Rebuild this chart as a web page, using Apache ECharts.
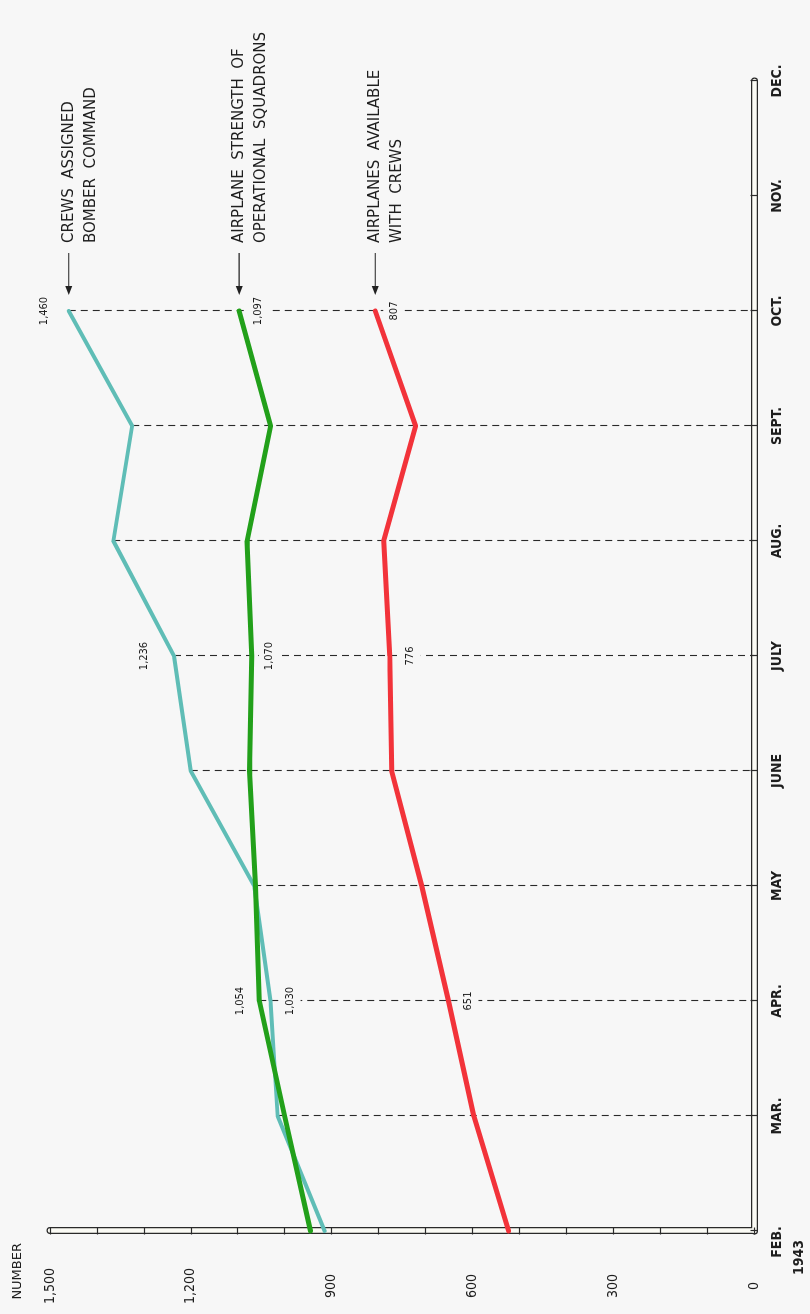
<!DOCTYPE html>
<html><head><meta charset="utf-8">
<script src="https://cdn.jsdelivr.net/npm/echarts@6/dist/echarts.min.js"></script>
<style>
html,body{margin:0;padding:0;background:#f7f7f7;width:810px;height:1314px;overflow:hidden;}
#chart{position:absolute;left:0;top:0;width:1314px;height:810px;transform-origin:0 0;transform:translate(0,1314px) rotate(-90deg);}
</style></head><body><div id="chart"></div>
<script>
// ---- data ----
const months = ['FEB.','MAR.','APR.','MAY','JUNE','JULY','AUG.','SEPT.','OCT.','NOV.','DEC.'];
const startYear = '1943';
const crewsAssigned      = [915, 1015, 1030, 1065, 1200, 1236, 1365, 1325, 1460];
const airplaneStrength   = [945, 1000, 1054, 1062, 1075, 1070, 1080, 1030, 1097];
const airplanesAvailable = [523, 597, 651, 708, 772, 776, 789, 721, 807];
const valueTicks      = [0, 300, 600, 900, 1200, 1500];
const valueTickLabels = ['0', '300', '600', '900', '1,200', '1,500'];
const annotCrews     = ['CREWS  ASSIGNED', 'BOMBER  COMMAND'];
const annotStrength  = ['AIRPLANE  STRENGTH  OF', 'OPERATIONAL  SQUADRONS'];
const annotAvailable = ['AIRPLANES  AVAILABLE', 'WITH  CREWS'];
const axisName = 'NUMBER';

// ---- styling ----
const BG = '#f7f7f7', INK = '#1e1e1e', BARFILL = '#fbfbf5';
const COND = "'DejaVu Sans Condensed','Liberation Sans Narrow','DejaVu Sans',sans-serif";
const SANS = "'DejaVu Sans',sans-serif";
const colors = ['#5fbdb6', '#22a01a', '#f2333a'];
const widths = [4, 5, 5];
// label placement per labelled point: [position, distance]
const placement = [
  {2: ['bottom', 8], 5: ['top', 18], 8: ['top', 13]},
  {2: ['top', 8], 5: ['bottom', 6], 8: ['bottom', 7]},
  {2: ['bottom', 8], 5: ['bottom', 9], 8: ['bottom', 7]}
];
const fmt = v => v.toLocaleString('en-US');

const allSeries = [crewsAssigned, airplaneStrength, airplanesAvailable];

function buildData(arr, k) {
  return arr.map((v, i) => {
    const p = placement[k][i];
    if (!p) return v;
    return {value: v, label: {show: true, position: p[0], distance: p[1], formatter: fmt(v),
      fontFamily: COND, fontSize: 11, color: INK, backgroundColor: BG, padding: [4, 1], lineHeight: 13}};
  });
}

// dashed guide lines from highest point down to the axis, MAR..OCT
const guideData = [];
for (let i = 1; i < crewsAssigned.length; i++) {
  const top = Math.max(crewsAssigned[i], airplaneStrength[i], airplanesAvailable[i]);
  guideData.push([{coord: [months[i], top]}, {coord: [months[i], 0]}]);
}

function catAxis(kind) {
  const base = {type: 'category', data: months, boundaryGap: false, position: 'bottom',
    axisLine: {show: false, onZero: false}, axisTick: {show: false, interval: 0},
    axisLabel: {show: false, interval: 0}, splitLine: {show: false}};
  if (kind === 0) {
    base.z = 1;
    base.axisLine = {show: true, onZero: false, lineStyle: {color: '#2a2a2a', width: 7}};
    base.axisLabel = {show: true, interval: 0, margin: 12, fontFamily: COND, fontSize: 14, fontWeight: 'bold', color: INK,
      lineHeight: 22,
      formatter: (v, i) => i === 0 ? '{a|' + v + '}\n{b|' + startYear + '}' : v,
      rich: {a: {fontFamily: COND, fontSize: 14, fontWeight: 'bold', color: INK, padding: [0, 22, 0, 0], lineHeight: 22},
             b: {fontFamily: COND, fontSize: 14, fontWeight: 'bold', color: INK, padding: [0, 53, 0, 0], lineHeight: 22}}};
  } else if (kind === 1) {
    base.z = 2;
    base.axisLine = {show: true, onZero: false, lineStyle: {color: BARFILL, width: 4.5}};
    base.axisTick = {show: true, interval: 0, inside: false, length: 3.5, lineStyle: {color: '#2a2a2a', width: 1.2}};
  } else {
    base.z = 3;
    base.axisTick = {show: true, interval: 0, inside: true, length: 3.5, lineStyle: {color: '#2a2a2a', width: 1.2}};
  }
  return base;
}
function valAxis(kind) {
  const base = {type: 'value', min: 0, max: 1500, interval: 100, position: 'left',
    axisLine: {show: false, onZero: false}, axisTick: {show: false}, axisLabel: {show: false},
    splitLine: {show: false}};
  if (kind === 0) {
    base.z = 1;
    base.axisLine = {show: true, onZero: false, lineStyle: {color: '#2a2a2a', width: 7}};
    base.axisLabel = {show: true, margin: 55, align: 'center', fontFamily: COND, fontSize: 14, color: INK,
      formatter: v => { const j = valueTicks.indexOf(v); return j >= 0 ? valueTickLabels[j] : ''; }};
    base.name = axisName;
    base.nameLocation = 'end';
    base.nameGap = 32;
    base.nameTextStyle = {fontFamily: SANS, fontSize: 13, color: INK, align: 'right', verticalAlign: 'middle', padding: [0, 12, 0, 0]};
  } else if (kind === 1) {
    base.z = 2;
    base.axisLine = {show: true, onZero: false, lineStyle: {color: BARFILL, width: 4.5}};
    base.axisTick = {show: true, inside: false, length: 3.5, lineStyle: {color: '#2a2a2a', width: 1.2}};
  } else {
    base.z = 3;
    base.axisTick = {show: true, inside: true, length: 3.5, lineStyle: {color: '#2a2a2a', width: 1.2}};
  }
  return base;
}

const chart = echarts.init(document.getElementById('chart'), null, {renderer: 'canvas'});
const option = {
  backgroundColor: BG,
  animation: false,
  grid: {left: 83, right: 81, top: 50, bottom: 56, containLabel: false, outerBoundsMode: 'none'},
  xAxis: [catAxis(0), catAxis(1), catAxis(2)],
  yAxis: [valAxis(0), valAxis(1), valAxis(2)],
  series: [
    {type: 'line', name: 'guides', data: [], z: 5, silent: true,
      markLine: {silent: true, symbol: ['none', 'none'], label: {show: false},
        lineStyle: {type: [7, 5], color: '#2a2a2a', width: 1.1}, data: guideData}},
  ].concat(allSeries.map((arr, k) => ({
    type: 'line', name: 'S' + k, data: buildData(arr, k), z: 10 + k, silent: true,
    symbol: 'circle', symbolSize: 2, showSymbol: true,
    itemStyle: {color: colors[k]},
    lineStyle: {color: colors[k], width: widths[k], join: 'round', cap: 'round'},
    label: {show: false}
  })))
};
chart.setOption(option);

// annotations with arrows, anchored to the last (OCT.) point of each series
const annots = [annotCrews, annotStrength, annotAvailable];
const lastIdx = crewsAssigned.length - 1;
const graphics = [];
allSeries.forEach((arr, k) => {
  const p = chart.convertToPixel({xAxisIndex: 0, yAxisIndex: 0}, [months[lastIdx], arr[lastIdx]]);
  const x0 = p[0], y0 = p[1];
  graphics.push({type: 'line', silent: true, shape: {x1: x0 + 58, y1: y0, x2: x0 + 22, y2: y0},
    style: {stroke: '#222', lineWidth: 1.2}});
  graphics.push({type: 'polygon', silent: true, shape: {points: [[x0 + 16, y0], [x0 + 25, y0 - 3.5], [x0 + 25, y0 + 3.5]]},
    style: {fill: '#222'}});
  annots[k].forEach((t, j) => {
    graphics.push({type: 'text', silent: true, x: x0 + 68, y: y0 + j * 22,
      style: {text: t, fontFamily: SANS, fontSize: 15, fill: INK, align: 'left', verticalAlign: 'middle'}});
  });
});
chart.setOption({graphic: graphics});
</script></body></html>
